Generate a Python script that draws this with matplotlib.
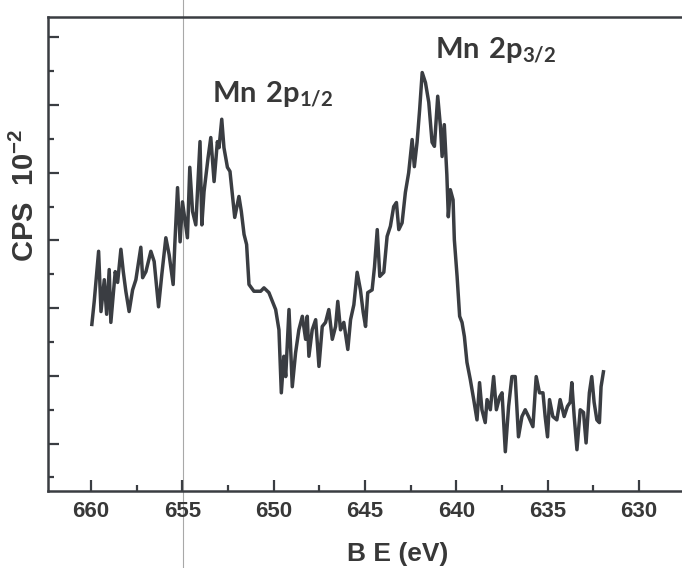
import matplotlib
matplotlib.use("Agg")
import matplotlib.pyplot as plt
from matplotlib.ticker import MultipleLocator

# Mn 2p spectrum: binding energy (eV) and counts (one unit per major y tick)
be = [659.95, 659.82, 659.58, 659.45, 659.27, 659.14, 659.00, 658.91, 658.67, 658.54,
      658.36, 658.23, 658.09, 657.91, 657.72, 657.54, 657.27, 657.17, 656.99, 656.72,
      656.54, 656.30, 656.12, 655.90, 655.72, 655.50, 655.41, 655.26, 655.12, 654.99,
      654.72, 654.59, 654.44, 654.26, 654.03, 653.93, 653.81, 653.59, 653.44, 653.26,
      653.08, 652.99, 652.84, 652.72, 652.53, 652.39, 652.26, 652.13, 651.90, 651.77,
      651.62, 651.48, 651.35, 651.08, 650.71, 650.53, 650.26, 649.89, 649.71, 649.58,
      649.44, 649.34, 649.16, 648.98, 648.80, 648.62, 648.43, 648.25, 648.16, 648.07,
      647.89, 647.70, 647.52, 647.34, 647.16, 646.98, 646.79, 646.61, 646.49, 646.34,
      646.16, 645.94, 645.79, 645.61, 645.43, 645.25, 645.10, 644.97, 644.85, 644.61,
      644.48, 644.33, 644.19, 643.97, 643.79, 643.61, 643.43, 643.28, 643.15, 642.97,
      642.79, 642.61, 642.42, 642.30, 642.15, 642.01, 641.87, 641.69, 641.51, 641.33,
      641.20, 641.02, 640.87, 640.78, 640.66, 640.52, 640.44, 640.33, 640.18, 640.11,
      639.96, 639.82, 639.69, 639.56, 639.42, 639.24, 639.05, 638.87, 638.73, 638.60,
      638.42, 638.32, 638.14, 637.96, 637.81, 637.63, 637.50, 637.32, 637.14, 636.96,
      636.78, 636.60, 636.41, 636.23, 636.05, 635.81, 635.63, 635.45, 635.26, 635.14,
      635.01, 634.90, 634.72, 634.50, 634.32, 634.10, 633.92, 633.77, 633.68, 633.55,
      633.40, 633.22, 633.04, 632.90, 632.72, 632.59, 632.46, 632.31, 632.17, 632.08,
      631.95]
cps = [2.76, 3.10, 3.84, 2.95, 3.42, 2.91, 3.57, 2.79, 3.54, 3.38,
       3.87, 3.54, 3.25, 2.95, 3.27, 3.42, 3.90, 3.45, 3.54, 3.84,
       3.69, 3.02, 3.50, 4.04, 3.79, 3.35, 3.94, 4.78, 3.98, 4.57,
       4.04, 5.08, 4.43, 4.23, 5.46, 4.23, 4.72, 5.22, 5.52, 4.87,
       5.46, 5.37, 5.79, 5.37, 5.08, 5.02, 4.68, 4.34, 4.65, 4.43,
       4.09, 3.94, 3.35, 3.25, 3.25, 3.30, 3.23, 2.98, 2.68, 1.75,
       2.29, 1.99, 2.98, 1.84, 2.34, 2.68, 2.88, 2.54, 2.88, 2.29,
       2.68, 2.83, 2.14, 2.73, 2.79, 2.98, 2.54, 2.73, 3.10, 2.68,
       2.79, 2.39, 2.83, 3.05, 3.53, 3.27, 2.94, 2.73, 3.23, 3.27,
       3.61, 4.16, 3.47, 3.53, 4.06, 4.21, 4.50, 4.56, 4.16, 4.26,
       4.71, 5.00, 5.49, 5.09, 5.45, 5.93, 6.48, 6.33, 6.04, 5.45,
       5.39, 6.13, 5.68, 5.24, 5.71, 4.97, 4.35, 4.75, 4.60, 4.01,
       3.47, 2.88, 2.79, 2.58, 2.20, 1.95, 1.65, 1.35, 1.90, 1.50,
       1.31, 1.65, 1.50, 1.99, 1.50, 1.69, 1.75, 0.88, 1.55, 1.99,
       1.99, 1.10, 1.40, 1.50, 1.40, 1.25, 1.99, 1.75, 1.75, 1.40,
       1.10, 1.65, 1.40, 1.35, 1.65, 1.40, 1.55, 1.61, 1.90, 1.40,
       0.91, 1.50, 1.46, 1.01, 1.75, 1.99, 1.61, 1.35, 1.31, 1.84,
       2.06]

xticks = [660, 655, 650, 645, 640, 635, 630]
peak_labels = [r"$\mathsf{Mn\ 2p_{1/2}}$", r"$\mathsf{Mn\ 2p_{3/2}}$"]
peak_x = [653.35, 641.15]
peak_y = [6.05, 6.70]

plt.rcParams["font.family"] = ["Liberation Sans", "DejaVu Sans"]
plt.rcParams["mathtext.fontset"] = "custom"
plt.rcParams["mathtext.sf"] = "Lato:bold"
plt.rcParams["mathtext.bf"] = "Liberation Sans:bold"
plt.rcParams["mathtext.rm"] = "Liberation Sans:bold"

ink = "#3a3d42"
txt = "#383838"

fig = plt.figure(figsize=(6.82, 5.68), dpi=100)
ax = fig.add_axes([48 / 682, 77 / 568, 1 - 48 / 682, 474 / 568])

ax.plot(be, cps, color=ink, lw=2.5, solid_joinstyle="round")

# faint vertical crease running across the sheet
ax.axvline(654.95, ymin=-0.2, ymax=1.1, clip_on=False, color="#a8a8a8", lw=0.8, zorder=0)

for lab, x, y in zip(peak_labels, peak_x, peak_y):
    ax.text(x, y, lab, fontsize=21, color=txt, ha="left", va="baseline")

ax.set_xlim(662.35, 627.65)
ax.set_ylim(0.3, 7.3)
ax.set_xticks(xticks)
ax.set_xticklabels([str(t) for t in xticks], fontsize=16, fontweight="bold", color=txt)
ax.xaxis.set_minor_locator(MultipleLocator(2.5))
ax.yaxis.set_major_locator(MultipleLocator(1))
ax.yaxis.set_minor_locator(MultipleLocator(0.5))
ax.set_yticklabels([])

ax.tick_params(axis="both", which="major", direction="in", length=8, width=1.6, color=ink)
ax.tick_params(axis="both", which="minor", direction="in", length=4, width=1.6, color=ink)
ax.tick_params(axis="x", pad=7)

for side in ["left", "bottom", "top"]:
    ax.spines[side].set_linewidth(1.8)
    ax.spines[side].set_color(ink)
ax.spines["right"].set_visible(False)

ax.set_xlabel("B E (eV)", fontsize=19, fontweight="bold", color=txt)
ax.xaxis.set_label_coords(0.552, -0.108)
ax.set_ylabel(r"CPS  10$^{\mathbf{-2}}$", fontsize=21, fontweight="bold", color=txt, va="center")
ax.yaxis.set_label_coords(-0.035, 0.624)

fig.savefig("out.png", dpi=100)
